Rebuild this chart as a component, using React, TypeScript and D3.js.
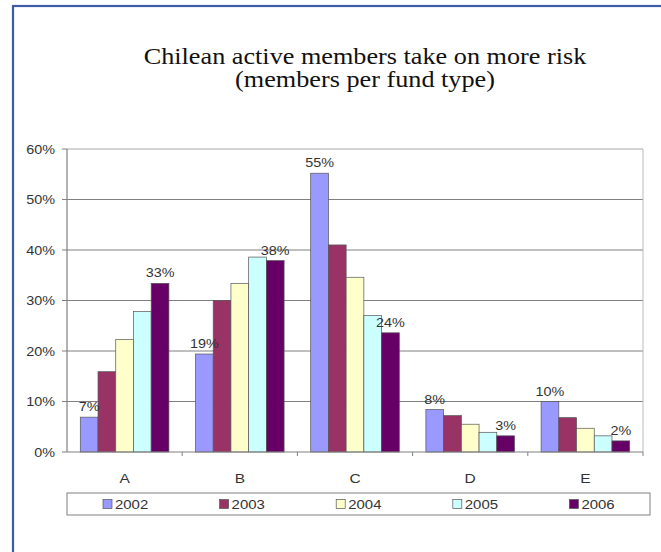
import React from "react";
import * as d3 from "d3";

const categories = ["A", "B", "C", "D", "E"];
const years = ["2002", "2003", "2004", "2005", "2006"];
const v2002 = [6.9, 19.4, 55.2, 8.4, 10.0];
const v2003 = [15.9, 30.0, 41.0, 7.2, 6.8];
const v2004 = [22.3, 33.4, 34.6, 5.5, 4.7];
const v2005 = [27.8, 38.6, 27.0, 3.9, 3.2];
const v2006 = [33.4, 37.9, 23.6, 3.2, 2.2];
const seriesValues = [v2002, v2003, v2004, v2005, v2006];
const colors = ["#9999FF", "#993366", "#FFFFCC", "#CCFFFF", "#660066"];
const labeledYears = ["2002", "2006"];
const yTicks = [0, 10, 20, 30, 40, 50, 60];
const titleLines = ["Chilean active members take on more risk", "(members per fund type)"];

const SX = 1.15;
const font = "Arial, 'Liberation Sans', sans-serif";

function T(props: { x: number; y: number; anchor?: string; size: number; fill?: string; family?: string; sx?: number; children: React.ReactNode }) {
  const { x, y, anchor = "start", size, fill = "#333", family = font, sx = SX, children } = props;
  return (
    <text transform={`translate(${x},${y}) scale(${sx},1)`} textAnchor={anchor} fontFamily={family} fontSize={size} fill={fill}>
      {children}
    </text>
  );
}

export default function App() {
  const W = 661, H = 552;
  const left = 67, right = 643, top = 149, bottom = 452;
  const x = d3.scaleBand<string>().domain(categories).range([left, right]).padding(0);
  const bw = x.bandwidth();
  const unit = bw / 6.5;
  const xi = d3.scaleBand<string>().domain(years).range([unit * 0.75, bw - unit * 0.75]).padding(0);
  const y = d3.scaleLinear().domain([0, 60]).range([bottom, top]);
  const legendX = d3.scaleBand<string>().domain(years).range([67, 650]).padding(0);

  return (
    <svg width={W} height={H} style={{ position: "absolute", left: 0, top: 0 }}>
      <rect x={0} y={0} width={W} height={H} fill="#fff" />
      <rect x={13} y={6} width={W + 20} height={H + 20} fill="none" stroke="#3C5DA5" strokeWidth={2.2} />
      {titleLines.map((t, i) => (
        <T key={i} x={365} y={64 + i * 23} anchor="middle" family="'Times New Roman', 'Liberation Serif', serif" size={23} fill="#111" sx={1.14}>{t}</T>
      ))}
      {yTicks.map((t) => (
        <g key={t}>
          {t > 0 && (
            <line x1={left} x2={right} y1={y(t)} y2={y(t)} stroke={t === 60 ? "#aaa" : "#808080"} strokeWidth={1.2} />
          )}
          <line x1={left - 5} x2={left} y1={y(t)} y2={y(t)} stroke="#808080" strokeWidth={1} />
          <T x={55} y={y(t) + 4.5} anchor="end" size={12.5}>{`${t}%`}</T>
        </g>
      ))}
      <line x1={right} x2={right} y1={top} y2={bottom} stroke="#bbb" strokeWidth={1} />
      {categories.map((c, ci) => (
        <g key={c}>
          {years.map((yr, si) => {
            const v = seriesValues[si][ci];
            const bx = (x(c) as number) + (xi(yr) as number);
            return (
              <rect key={yr} x={bx} y={y(v)} width={xi.bandwidth()} height={bottom - y(v)} fill={colors[si]} stroke="#555" strokeWidth={0.7} />
            );
          })}
          {years.map((yr, si) => {
            if (!labeledYears.includes(yr)) return null;
            const v = seriesValues[si][ci];
            const bx = (x(c) as number) + (xi(yr) as number) + xi.bandwidth() / 2;
            return (
              <T key={"l" + yr} x={bx} y={y(v) - 6} anchor="middle" size={12.5}>{`${Math.round(v)}%`}</T>
            );
          })}
        </g>
      ))}
      <line x1={left} x2={left} y1={top} y2={bottom} stroke="#808080" strokeWidth={1.2} />
      <line x1={left} x2={right} y1={bottom} y2={bottom} stroke="#808080" strokeWidth={1.2} />
      {categories.map((c) => (
        <g key={"t" + c}>
          <line x1={(x(c) as number) + bw} x2={(x(c) as number) + bw} y1={bottom} y2={bottom + 4} stroke="#808080" />
          <T x={(x(c) as number) + bw / 2} y={483} anchor="middle" size={13.5}>{c}</T>
        </g>
      ))}
      <rect x={67} y={493} width={583} height={22} fill="#fff" stroke="#808080" strokeWidth={1} />
      {years.map((yr, si) => {
        const lx = (legendX(yr) as number) + 36;
        return (
          <g key={"lg" + yr}>
            <rect x={lx} y={499.5} width={9} height={9} fill={colors[si]} stroke="#555" strokeWidth={0.7} />
            <T x={lx + 12} y={508.5} size={13}>{yr}</T>
          </g>
        );
      })}
    </svg>
  );
}
